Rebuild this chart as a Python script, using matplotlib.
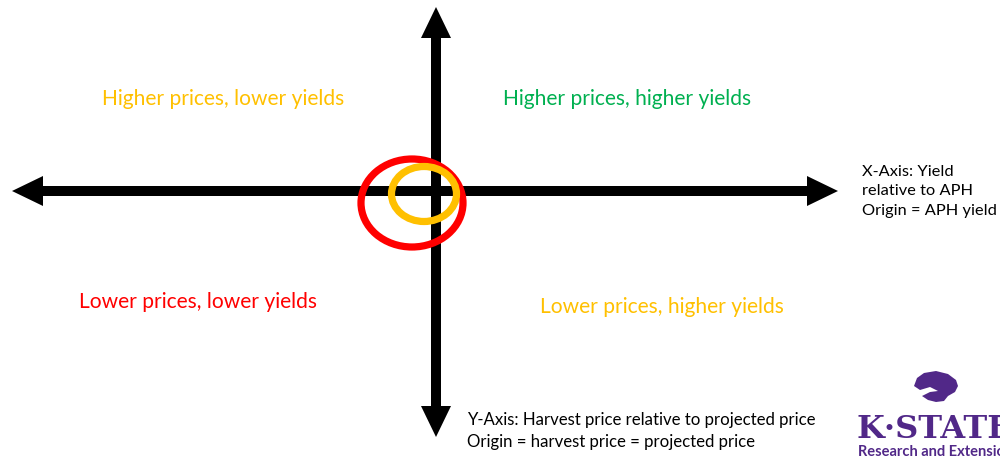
import matplotlib
matplotlib.use("Agg")
import matplotlib.pyplot as plt
from matplotlib.patches import FancyArrow, Ellipse, Polygon

plt.rcParams['font.family'] = ['Lato', 'DejaVu Sans']

# quadrant labels (text, x, y, colour)
quad_labels = ["Higher prices, lower yields", "Higher prices, higher yields",
               "Lower prices, lower yields", "Lower prices, higher yields"]
quad_x = [223, 627, 198, 662]
quad_y = [99, 99, 302, 307]
quad_colors = ["#FFC000", "#00B050", "#FF0000", "#FFC000"]

# axis notes
x_note = "X-Axis: Yield\nrelative to APH\nOrigin = APH yield"
y_note = "Y-Axis: Harvest price relative to projected price\nOrigin = harvest price = projected price"

# axes geometry in pixel space
origin = (436, 191)
x_ends = (12, 838)
y_ends = (7, 437)

# circles around the origin: centre x, centre y, width, height, colour
circ_x = [412, 424]
circ_y = [203, 194]
circ_w = [102, 65]
circ_h = [88, 55]
circ_colors = ["#FF0000", "#FFC000"]

fig = plt.figure(figsize=(10, 4.57), dpi=100)
ax = fig.add_axes([0, 0, 1, 1])
ax.set_xlim(0, 1000)
ax.set_ylim(457, 0)
ax.axis('off')

ox, oy = origin
arrow_kw = dict(width=10, head_width=30, head_length=31,
                length_includes_head=True, color='black', lw=0)
for xe in x_ends:
    ax.add_patch(FancyArrow(ox, oy, xe - ox, 0, **arrow_kw))
for ye in y_ends:
    ax.add_patch(FancyArrow(ox, oy, 0, ye - oy, **arrow_kw))

for cx, cy, w, h, c in zip(circ_x, circ_y, circ_w, circ_h, circ_colors):
    ax.add_patch(Ellipse((cx, cy), w, h, fill=False, ec=c, lw=5.2, zorder=3))

for t, x, y, c in zip(quad_labels, quad_x, quad_y, quad_colors):
    ax.text(x, y, t, color=c, fontsize=15.1, ha='center', va='center')

ax.text(862, 191, x_note, fontsize=11.8, ha='left', va='center', linespacing=1.5)
ax.text(467, 431, y_note, fontsize=12.1, ha='left', va='center', linespacing=1.45)

# K-State logo (rough, cut off at the right edge like the source slide)
purple = "#512888"
cat = [(917, 378), (924, 373), (936, 371), (948, 374), (956, 380), (958, 386),
       (955, 392), (948, 396), (944, 401), (936, 402), (928, 400), (922, 396),
       (930, 392), (938, 391), (930, 387), (920, 390), (914, 386)]
ax.add_patch(Polygon(cat, closed=True, color=purple, lw=0))
ax.text(856, 438, "K·STATE", color=purple, fontsize=23, fontweight='bold',
        family='DejaVu Serif', ha='left', va='baseline', clip_on=True)
ax.text(858, 456, "Research and Extension", color=purple, fontsize=10.5,
        fontweight='bold', ha='left', va='baseline', clip_on=True)

fig.savefig("out.png", dpi=100)
